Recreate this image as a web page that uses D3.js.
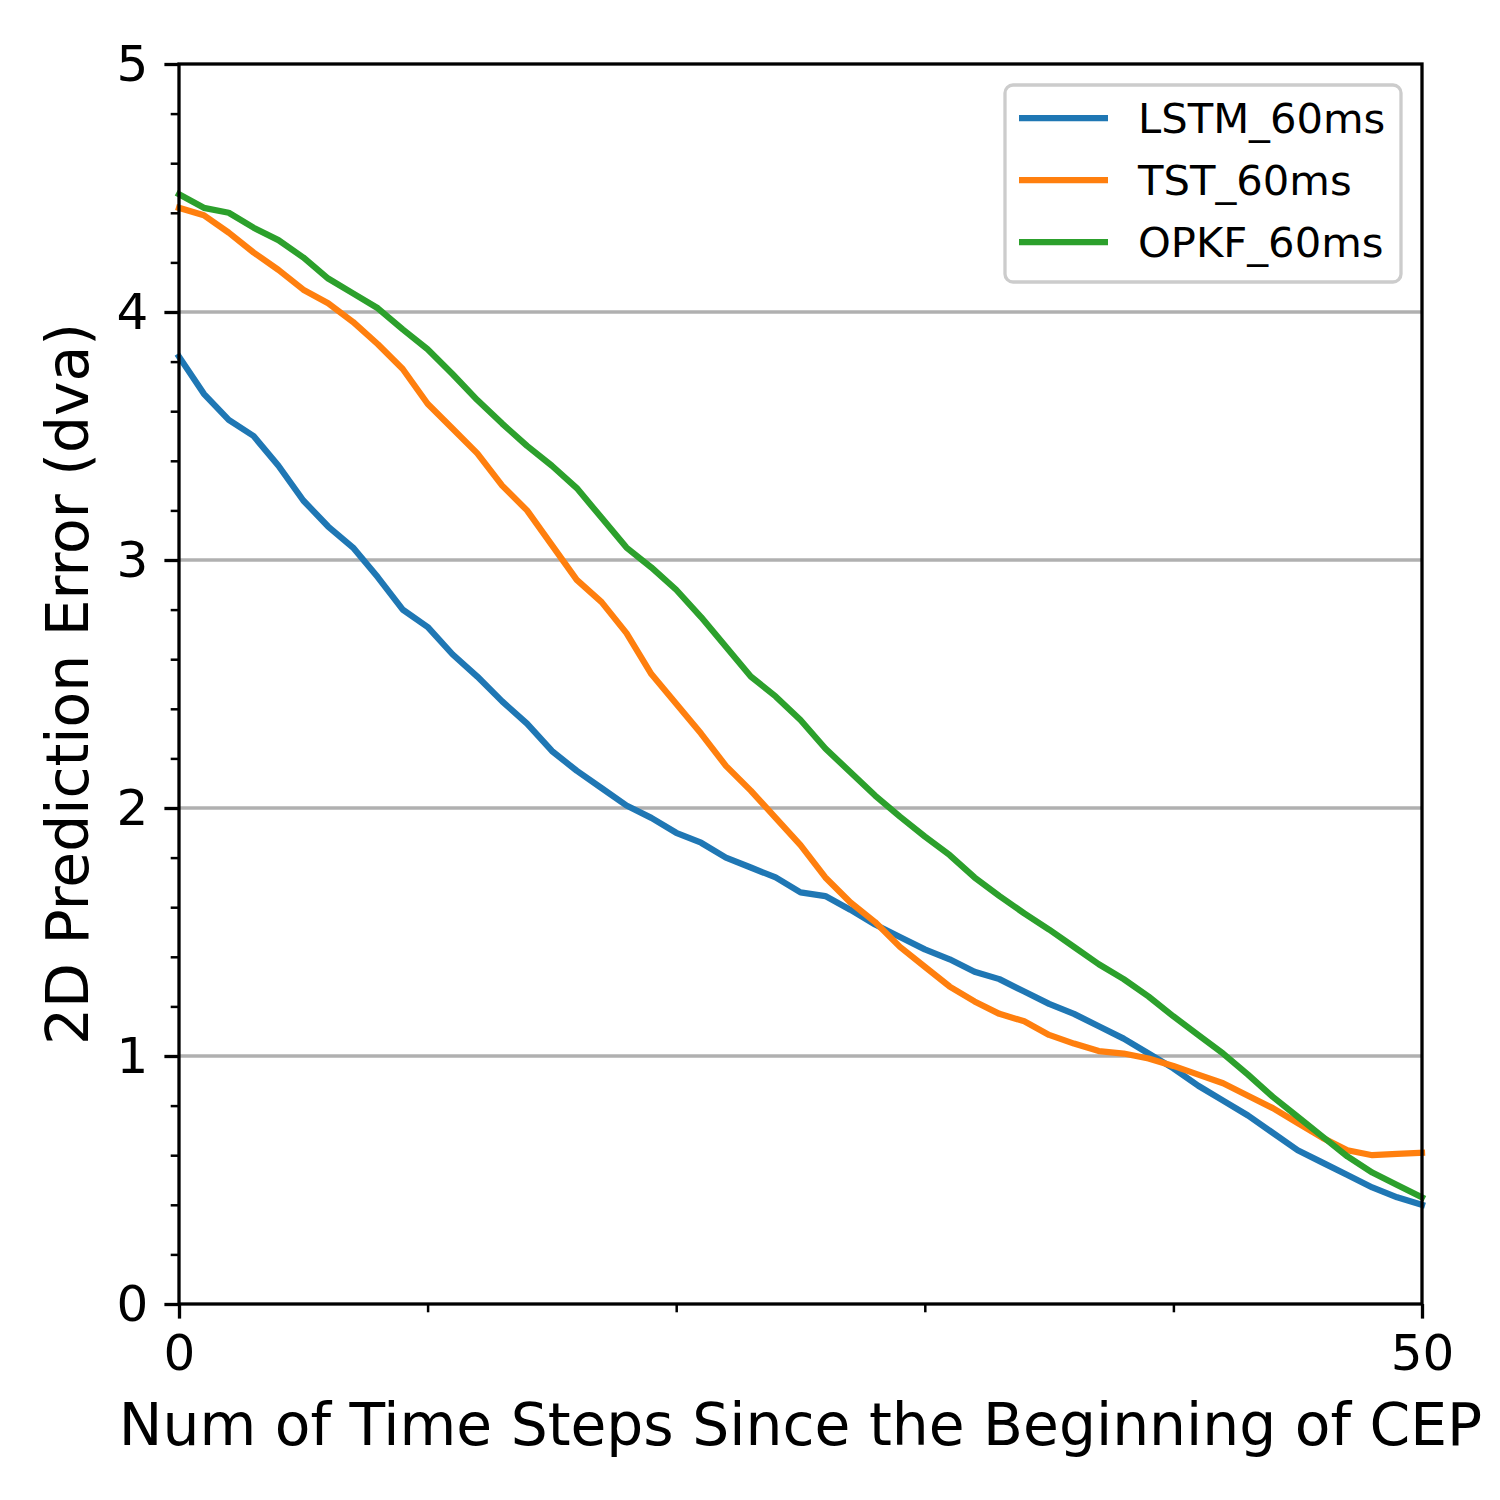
<!DOCTYPE html>
<html>
<head>
<meta charset="utf-8">
<script src="https://cdn.jsdelivr.net/npm/d3@7"></script>
<style>
  body { margin: 0; background: #fff; }
  text { font-family: "DejaVu Sans", sans-serif; fill: #000; }
</style>
</head>
<body>
<script>
// time steps 0..50
const steps = d3.range(0, 51)

const lstm = [3.82, 3.67, 3.565, 3.50, 3.38, 3.24, 3.135, 3.05, 2.93, 2.80,
  2.73, 2.62, 2.53, 2.43, 2.34, 2.23, 2.15, 2.08, 2.01, 1.96,
  1.90, 1.86, 1.80, 1.76, 1.72, 1.66, 1.645, 1.59, 1.53, 1.48,
  1.43, 1.39, 1.34, 1.31, 1.26, 1.21, 1.17, 1.12, 1.07, 1.01,
  0.95, 0.88, 0.82, 0.76, 0.69, 0.62, 0.57, 0.52, 0.47, 0.43, 0.40]

const tst = [4.42, 4.39, 4.32, 4.24, 4.17, 4.09, 4.035, 3.96, 3.87, 3.77,
  3.63, 3.53, 3.43, 3.30, 3.20, 3.06, 2.92, 2.83, 2.705, 2.54,
  2.42, 2.30, 2.17, 2.07, 1.96, 1.85, 1.72, 1.62, 1.54, 1.44,
  1.36, 1.28, 1.22, 1.17, 1.14, 1.085, 1.05, 1.02, 1.01, 0.99,
  0.96, 0.925, 0.89, 0.84, 0.79, 0.73, 0.67, 0.62, 0.60, 0.605, 0.61]

const opkf = [4.475, 4.42, 4.40, 4.34, 4.29, 4.22, 4.135, 4.075, 4.015, 3.93,
  3.85, 3.75, 3.645, 3.55, 3.46, 3.38, 3.29, 3.17, 3.05, 2.97,
  2.88, 2.77, 2.65, 2.53, 2.45, 2.355, 2.24, 2.145, 2.05, 1.965,
  1.885, 1.81, 1.72, 1.645, 1.575, 1.51, 1.44, 1.37, 1.31, 1.24,
  1.16, 1.085, 1.01, 0.925, 0.835, 0.755, 0.675, 0.595, 0.53, 0.48, 0.43]

const seriesNames = ['LSTM_60ms', 'TST_60ms', 'OPKF_60ms']
const seriesColors = ['#1f77b4', '#ff7f0e', '#2ca02c']
const seriesData = [lstm, tst, opkf]

const xTickLabels = [0, 50]
const xMinorTicks = [10, 20, 30, 40]
const yTickLabels = [0, 1, 2, 3, 4, 5]
const yGrid = [1, 2, 3, 4]

// plot box
const pL = 179, pR = 1422, pT = 64, pB = 1304

const svg = d3.select("body").append("svg")
  .attr("width", 1500).attr("height", 1500)

const x = d3.scaleLinear().domain([0, 50]).range([pL, pR])
const y = d3.scaleLinear().domain([0, 5]).range([pB, pT])

// grid
svg.append("g").selectAll("line").data(yGrid).join("line")
  .attr("x1", pL).attr("x2", pR)
  .attr("y1", d => y(d)).attr("y2", d => y(d))
  .attr("stroke", "#b0b0b0").attr("stroke-width", 3.3)

// lines
const line = d3.line().x((d, i) => x(steps[i])).y(d => y(d))
seriesData.forEach((s, k) => {
  svg.append("path").datum(s)
    .attr("d", line)
    .attr("fill", "none")
    .attr("stroke", seriesColors[k])
    .attr("stroke-width", 6.25)
    .attr("stroke-linejoin", "round")
    .attr("stroke-linecap", "square")
})

// axes
const fs = 50
const xAxis = svg.append("g").attr("transform", `translate(0,${pB})`)
  .call(d3.axisBottom(x).tickValues(xTickLabels).tickSize(14.6).tickPadding(16).tickFormat(d3.format("d")))
const xMinor = svg.append("g").attr("transform", `translate(0,${pB})`)
  .call(d3.axisBottom(x).tickValues(xMinorTicks).tickSize(8.3).tickFormat(""))
const yAxis = svg.append("g").attr("transform", `translate(${pL},0)`)
  .call(d3.axisLeft(y).tickValues(yTickLabels).tickSize(14.6).tickPadding(16).tickFormat(d3.format("d")))
const yMinorVals = d3.range(0, 26).map(d => d / 5).filter(d => Math.abs(d - Math.round(d)) > 1e-6)
const yMinor = svg.append("g").attr("transform", `translate(${pL},0)`)
  .call(d3.axisLeft(y).tickValues(yMinorVals).tickSize(8.3).tickFormat(""))

;[xAxis, xMinor, yAxis, yMinor].forEach(g => {
  g.select(".domain").remove()
  g.selectAll(".tick line").attr("stroke", "#000").attr("stroke-width", 3.3)
  g.selectAll(".tick text").attr("font-size", fs).attr("font-family", "DejaVu Sans")
})
xMinor.selectAll(".tick line").attr("stroke-width", 2.5)
yMinor.selectAll(".tick line").attr("stroke-width", 2.5)

// frame
svg.append("rect")
  .attr("x", pL).attr("y", pT)
  .attr("width", pR - pL).attr("height", pB - pT)
  .attr("fill", "none").attr("stroke", "#000").attr("stroke-width", 3.3)

// axis labels
svg.append("text")
  .attr("x", (pL + pR) / 2).attr("y", 1445)
  .attr("text-anchor", "middle").attr("font-size", 58.3)
  .text("Num of Time Steps Since the Beginning of CEP")

svg.append("text")
  .attr("transform", `translate(88,${(pT + pB) / 2}) rotate(-90)`)
  .attr("text-anchor", "middle").attr("font-size", 58.3)
  .text("2D Prediction Error (dva)")

// legend
const lg = svg.append("g")
lg.append("rect")
  .attr("x", 1005).attr("y", 85).attr("width", 396).attr("height", 197)
  .attr("rx", 8).attr("fill", "#fff").attr("fill-opacity", 0.8)
  .attr("stroke", "#cccccc").attr("stroke-width", 3.3)
seriesNames.forEach((name, k) => {
  const ly = 118 + k * 62
  lg.append("line")
    .attr("x1", 1019).attr("x2", 1108).attr("y1", ly).attr("y2", ly)
    .attr("stroke", seriesColors[k]).attr("stroke-width", 6.25)
  lg.append("text")
    .attr("x", 1138).attr("y", ly).attr("dy", "0.36em")
    .attr("font-size", 41.7)
    .text(name)
})
</script>
</body>
</html>
